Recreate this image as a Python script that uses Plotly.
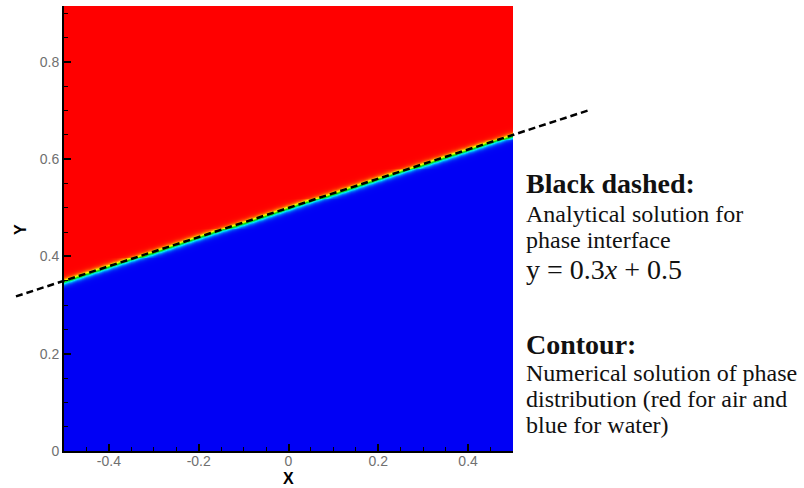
import numpy as np
import plotly.graph_objects as go

# ---- data ----
x_range = [-0.5, 0.5]
y_range = [0.0, 0.915]
slope = 0.3          # analytical interface y = 0.3x + 0.5
intercept = 0.5
interface_width = 0.0065  # numerical smearing of the phase field
interface_shift = -0.001  # numerical interface lies slightly below the analytical one
line_x = [-0.607, 0.671]  # extent of the dashed analytical line
x_ticks = [-0.4, -0.2, 0, 0.2, 0.4]
x_tick_labels = ["-0.4", "-0.2", "0", "0.2", "0.4"]
y_ticks = [0, 0.2, 0.4, 0.6, 0.8]
y_tick_labels = ["0", "0.2", "0.4", "0.6", "0.8"]

# phase field (volume fraction of air) on a grid
gx = np.linspace(x_range[0], x_range[1], 201)
gy = np.linspace(y_range[0], y_range[1], 461)
X, Y = np.meshgrid(gx, gy)
Z = 0.5 * (1 + np.tanh((Y - (slope * X + intercept + interface_shift)) / interface_width))

line_y = [slope * v + intercept for v in line_x]

W, H = 804, 488
L, R, T, B = 64, 513, 6, 451   # plot area in pixels

fig = go.Figure()
fig.add_trace(go.Heatmap(
    x=gx, y=gy, z=Z, zsmooth="best", showscale=False, zmin=0, zmax=1,
    colorscale=[[0, "#0000f5"], [0.25, "#00e6ff"], [0.5, "#00e000"],
                [0.75, "#ffff00"], [1, "#ff0000"]],
    hoverinfo="skip", xaxis="x", yaxis="y"))

# second axis pair spanning the whole figure with identical scale (so the line may run outside)
px_per_x = (R - L) / (x_range[1] - x_range[0])
px_per_y = (B - T) / (y_range[1] - y_range[0])
x2 = [x_range[0] - L / px_per_x, x_range[1] + (W - R) / px_per_x]
y2 = [y_range[0] - (H - B) / px_per_y, y_range[1] + T / px_per_y]

fig.add_trace(go.Scatter(
    x=line_x, y=line_y, mode="lines", xaxis="x2", yaxis="y2",
    line=dict(color="black", width=2.5, dash="7px,4px"), hoverinfo="skip"))

tickfont = dict(family="Liberation Sans, Arial, sans-serif", size=14, color="#707070")
titlefont = dict(family="Liberation Sans, Arial", size=16, color="black")
fig.update_layout(
    width=W, height=H, margin=dict(l=0, r=0, t=0, b=0),
    template="none", showlegend=False,
    paper_bgcolor="white", plot_bgcolor="rgba(0,0,0,0)",
    xaxis=dict(domain=[L / W, R / W], range=x_range, showgrid=False, zeroline=False,
               tickvals=x_ticks, ticktext=x_tick_labels, ticks="inside", ticklen=7,
               tickwidth=2, tickcolor="black", tickfont=tickfont, ticklabelstandoff=-4,
               minor=dict(dtick=0.05, ticks="inside", ticklen=4, tickwidth=1, tickcolor="black", showgrid=False),
               showline=True, linecolor="black", linewidth=2, automargin=False),
    yaxis=dict(domain=[(H - B) / H, (H - T) / H], range=y_range, showgrid=False, zeroline=False,
               tickvals=y_ticks, ticktext=y_tick_labels, ticks="inside", ticklen=7,
               tickwidth=2, tickcolor="black", tickfont=tickfont,
               minor=dict(dtick=0.05, ticks="inside", ticklen=4, tickwidth=1, tickcolor="black", showgrid=False),
               showline=True, linecolor="black", linewidth=2, automargin=False),
    xaxis2=dict(domain=[0, 1], range=x2, visible=False, anchor="y2"),
    yaxis2=dict(domain=[0, 1], range=y2, visible=False, anchor="x2"),
)

# axis titles placed as annotations
fig.add_annotation(text="<b>X</b>", xref="x", yref="paper", x=0, y=0,
                   xanchor="center", yanchor="bottom", showarrow=False, borderpad=0,
                   font=titlefont)
fig.add_annotation(text="<b>Y</b>", xref="paper", yref="paper", x=20 / W, y=1 - 230 / H,
                   xanchor="center", yanchor="middle", showarrow=False, borderpad=0,
                   textangle=-90, font=titlefont)

serif = "Liberation Serif, Times New Roman, serif"
lines = [
    ("<b>Black dashed:</b>", 183, 28),
    ("Analytical solution for", 214, 24),
    ("phase interface", 240, 24),
    ("y = 0.3<i>x</i> + 0.5", 269, 28),
    ("<b>Contour:</b>", 344, 28),
    ("Numerical solution of phase", 373, 24),
    ("distribution (red for air and", 399, 24),
    ("blue for water)", 425, 24),
]
for text, ypix, size in lines:
    fig.add_annotation(text=text, xref="paper", yref="paper", x=524 / W, y=1 - ypix / H,
                       xanchor="left", yanchor="middle", showarrow=False,
                       font=dict(family=serif, size=size, color="#111111"))

fig.write_html("out.html")
